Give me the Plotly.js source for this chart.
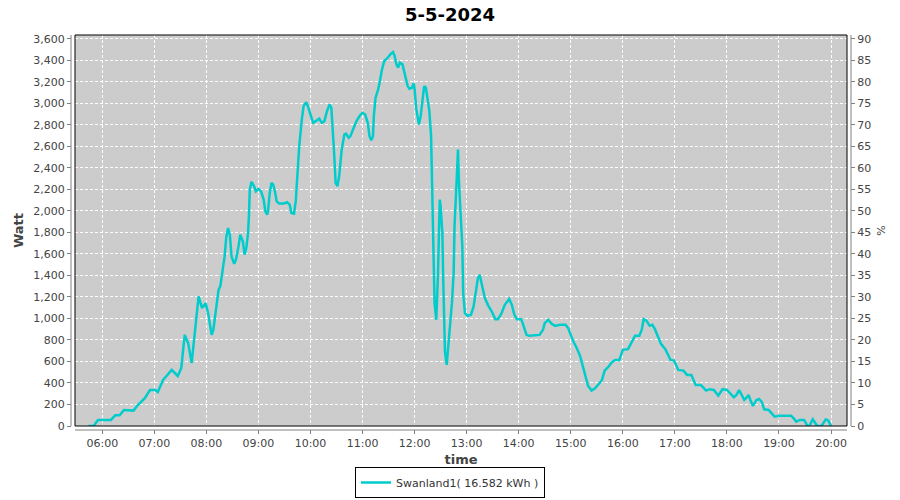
<!DOCTYPE html>
<html>
<head>
<meta charset="utf-8">
<script src="https://cdn.plot.ly/plotly-3.0.1.min.js"></script>
<style>html,body{margin:0;padding:0;background:#fff}#chart{width:900px;height:500px}</style>
</head>
<body>
<div id="chart"></div>
<script>
const chartDate = "2024-05-05";
const seriesName = "Swanland1( 16.582 kWh )";
const times = ["05:44","05:50","05:55","06:10","06:15","06:20","06:25","06:36","06:41","06:49","06:55","07:01","07:04","07:10","07:14","07:20","07:27","07:31","07:35","07:39","07:43","07:48","07:51","07:55","07:59","08:02","08:06","08:08","08:11","08:14","08:16","08:19","08:21","08:23","08:25","08:27","08:29","08:32","08:34","08:37","08:39","08:42","08:44","08:46","08:48","08:49","08:50","08:52","08:55","08:57","09:00","09:03","09:06","09:08","09:10","09:11","09:13","09:15","09:17","09:19","09:21","09:24","09:29","09:33","09:36","09:38","09:41","09:43","09:45","09:47","09:50","09:52","09:55","09:57","10:00","10:03","10:06","10:10","10:13","10:16","10:19","10:22","10:24","10:26","10:27","10:29","10:31","10:33","10:36","10:39","10:41","10:44","10:46","10:49","10:53","10:57","11:00","11:03","11:06","11:08","11:10","11:12","11:13","11:15","11:18","11:20","11:22","11:25","11:28","11:32","11:35","11:37","11:39","11:41","11:43","11:46","11:48","11:50","11:52","11:54","11:57","11:59","12:00","12:02","12:04","12:05","12:07","12:09","12:11","12:13","12:15","12:17","12:19","12:20","12:21","12:22","12:23","12:25","12:26","12:27","12:28","12:29","12:30","12:32","12:33","12:35","12:37","12:39","12:41","12:43","12:45","12:46","12:48","12:49","12:50","12:51","12:53","12:55","12:56","12:58","13:01","13:05","13:08","13:10","13:13","13:15","13:18","13:21","13:25","13:29","13:33","13:36","13:40","13:44","13:49","13:52","13:55","13:58","14:03","14:06","14:09","14:12","14:21","14:24","14:28","14:30","14:34","14:38","14:42","14:48","14:54","14:57","15:00","15:03","15:07","15:11","15:14","15:17","15:20","15:24","15:28","15:32","15:36","15:39","15:43","15:47","15:51","15:56","16:00","16:06","16:10","16:14","16:19","16:22","16:24","16:27","16:31","16:34","16:37","16:40","16:44","16:49","16:55","16:59","17:04","17:10","17:14","17:19","17:24","17:30","17:36","17:40","17:45","17:50","17:55","18:00","18:04","18:08","18:11","18:14","18:17","18:20","18:22","18:25","18:27","18:30","18:34","18:37","18:40","18:43","18:48","18:52","18:55","19:01","19:07","19:14","19:17","19:20","19:24","19:29","19:33","19:35","19:39","19:44","19:49","19:54","19:57","20:00"];
const watts = [0,0,56,56,100,100,149,143,195,258,335,335,316,428,465,521,465,537,847,770,584,987,1204,1096,1142,1049,847,893,1080,1266,1297,1452,1576,1762,1840,1778,1576,1508,1545,1669,1778,1716,1592,1654,1794,1949,2197,2269,2228,2181,2203,2181,2104,1995,1964,1995,2166,2259,2244,2181,2088,2067,2067,2079,2057,1980,1974,2090,2352,2600,2849,2973,3010,2973,2895,2818,2833,2858,2818,2833,2926,2988,2958,2756,2570,2259,2228,2321,2570,2709,2718,2678,2694,2756,2833,2886,2911,2895,2818,2694,2656,2694,2880,3051,3128,3206,3299,3392,3414,3454,3476,3439,3361,3330,3377,3361,3299,3237,3159,3135,3144,3184,3128,2942,2833,2802,2880,3051,3159,3144,3020,2926,2694,2352,1949,1515,1142,987,1142,1422,1794,2104,2042,1794,1359,692,568,738,956,1142,1422,1856,2197,2414,2570,2290,2011,1669,1235,1049,1024,1033,1111,1235,1375,1406,1297,1189,1117,1064,993,993,1043,1127,1180,1127,1033,993,993,910,847,838,847,847,894,956,987,950,931,940,940,910,847,785,723,645,552,459,372,329,351,388,428,515,546,589,614,614,708,714,770,838,838,900,993,980,931,940,900,838,763,714,614,608,521,515,475,475,382,382,329,342,335,282,342,335,298,267,289,335,289,242,258,289,242,186,242,251,226,155,149,112,87,96,96,96,71,40,56,56,0,0,62,0,0,62,50,0];
const wattTicks = [0,200,400,600,800,1000,1200,1400,1600,1800,2000,2200,2400,2600,2800,3000,3200,3400,3600];
const pctTicks = [0,5,10,15,20,25,30,35,40,45,50,55,60,65,70,75,80,85,90];

const xs = times.map(t => chartDate + " " + t);
const tickFont = {family: "DejaVu Sans", size: 11, color: "#444444"};
const gx = 4/772, gy = 4/391;

const trace = {
  x: xs, y: watts, type: "scatter", mode: "lines", name: seriesName,
  line: {color: "#00CCCC", width: 2.5}, showlegend: true
};
// empty series on the percent axis so that the right-hand axis is drawn
const pctTrace = {
  x: [], y: [], type: "scatter", mode: "lines", yaxis: "y2", showlegend: false, hoverinfo: "skip"
};

const layout = {
  width: 900, height: 500,
  margin: {l: 75, r: 53, t: 35, b: 74},
  paper_bgcolor: "#ffffff", plot_bgcolor: "#cccccc",
  title: {text: "5-5-2024", font: {family: "DejaVu Sans", size: 18, color: "#000000", weight: "bold"},
          x: 0.5, xref: "container", xanchor: "center", y: 0.97, yref: "container", yanchor: "middle"},
  xaxis: {
    type: "date", range: [chartDate + " 05:28:32", chartDate + " 20:18:25"],
    tick0: chartDate + " 00:00", dtick: 3600000, tickformat: "%H:%M",
    showgrid: true, gridcolor: "#ffffff", griddash: "3px,2px", gridwidth: 1,
    zeroline: false, showline: false, ticks: "outside", ticklen: 7, tickcolor: "#808080", tickwidth: 1,
    tickfont: tickFont,
    title: {text: "time", font: {family: "DejaVu Sans", size: 13, color: "#444444", weight: "bold"}, standoff: 8}
  },
  yaxis: {
    range: [0, 3634], tickmode: "array", tickvals: wattTicks, tickformat: ",d",
    showgrid: true, gridcolor: "#ffffff", griddash: "3px,2px", gridwidth: 1,
    zeroline: false, showline: false, ticks: "outside", ticklen: 7, tickcolor: "#808080", tickwidth: 1,
    tickfont: tickFont,
    title: {text: "Watt", font: {family: "DejaVu Sans", size: 13, color: "#444444", weight: "bold"}, standoff: 6}
  },
  yaxis2: {
    overlaying: "y", side: "right", range: [0, 90.85], tickmode: "array", tickvals: pctTicks,
    showgrid: false, zeroline: false, showline: false, ticks: "outside", ticklen: 7, tickcolor: "#808080", tickwidth: 1,
    tickfont: tickFont,
    title: {text: "%", font: {family: "DejaVu Sans", size: 11, color: "#444444"}, standoff: 7}
  },
  legend: {
    orientation: "h", x: 0.5, xref: "container", xanchor: "center",
    y: 0.004, yref: "container", yanchor: "bottom",
    bordercolor: "#000000", borderwidth: 1, bgcolor: "#ffffff",
    font: {family: "DejaVu Sans", size: 11, color: "#333333"}, itemwidth: 30
  },
  shapes: [
    {type: "rect", xref: "paper", yref: "paper", x0: -gx, x1: 0, y0: -gy, y1: 1, fillcolor: "#ffffff", line: {width: 0}, layer: "above"},
    {type: "rect", xref: "paper", yref: "paper", x0: 1, x1: 1 + gx, y0: -gy, y1: 1, fillcolor: "#ffffff", line: {width: 0}, layer: "above"},
    {type: "rect", xref: "paper", yref: "paper", x0: -gx, x1: 1 + gx, y0: -gy, y1: 0, fillcolor: "#ffffff", line: {width: 0}, layer: "above"},
    {type: "line", xref: "paper", yref: "paper", x0: -gx, x1: -gx, y0: 0, y1: 1, line: {color: "#808080", width: 1}, layer: "above"},
    {type: "line", xref: "paper", yref: "paper", x0: 1 + gx, x1: 1 + gx, y0: 0, y1: 1, line: {color: "#808080", width: 1}, layer: "above"},
    {type: "line", xref: "paper", yref: "paper", x0: 0, x1: 1, y0: -gy, y1: -gy, line: {color: "#808080", width: 1}, layer: "above"},
    {type: "rect", xref: "paper", yref: "paper", x0: 0, x1: 1, y0: 0, y1: 1, line: {color: "#000000", width: 1}, fillcolor: "rgba(0,0,0,0)", layer: "above"}
  ]
};

Plotly.newPlot("chart", [trace, pctTrace], layout, {staticPlot: true, displayModeBar: false});
</script>
</body>
</html>
